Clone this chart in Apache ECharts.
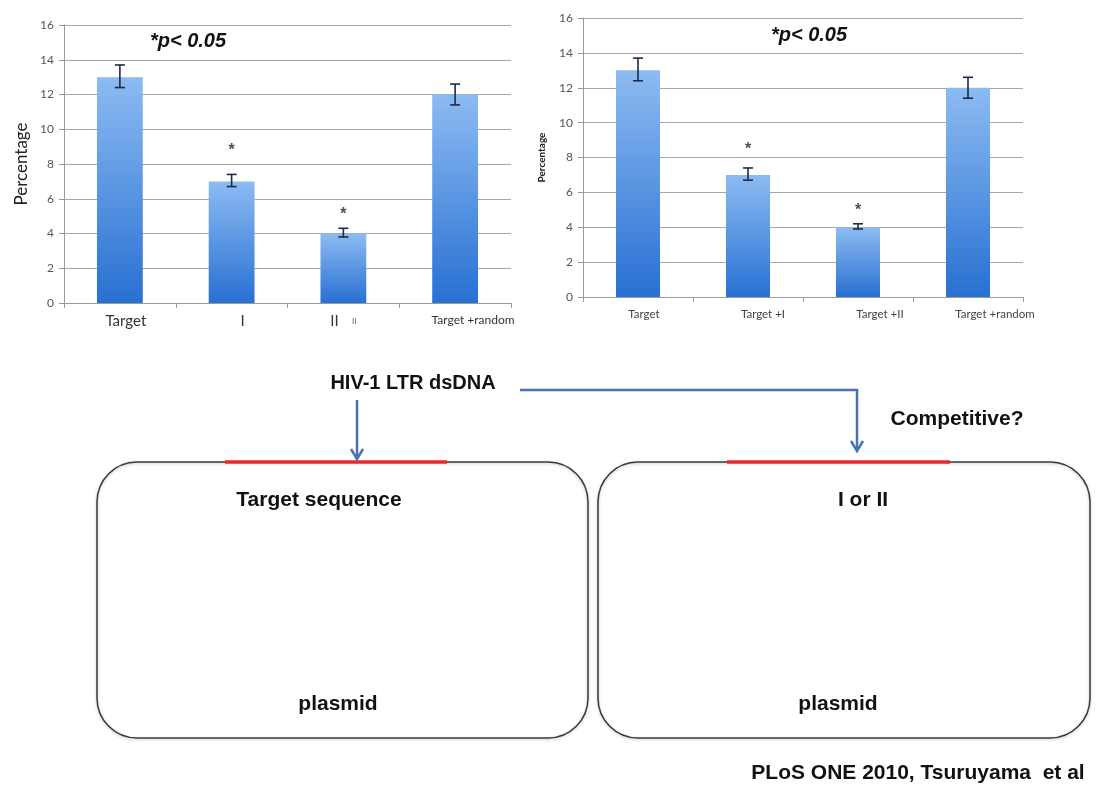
<!DOCTYPE html>
<html>
<head>
<meta charset="utf-8">
<script src="https://cdn.jsdelivr.net/npm/echarts@6/dist/echarts.min.js"></script>
<style>
html,body{margin:0;padding:0;background:#fff;}
#chart{width:1096px;height:796px;}
</style>
</head>
<body>
<div id="chart"></div>
<script>
// ---- data ----
const categoriesLeft = ['Target', 'I', 'II', 'Target +random'];
const categoriesRight = ['Target', 'Target +I', 'Target +II', 'Target +random'];
const valuesLeft = [13, 7, 4, 12];
const errLowLeft = [12.4, 6.7, 3.8, 11.4];
const errHighLeft = [13.7, 7.4, 4.3, 12.6];
const valuesRight = [13, 7, 4, 12];
const errLowRight = [12.4, 6.7, 3.9, 11.4];
const errHighRight = [13.7, 7.4, 4.2, 12.6];
const starPosLeft = [[1, 9.0], [2, 5.3]];
const starPosRight = [[1, 8.7], [2, 5.2]];
const yMin = 0, yMax = 16, yStep = 2;
const axisTitle = 'Percentage';
const sigText = '*p< 0.05';

const chart = echarts.init(document.getElementById('chart'));

const barColor = new echarts.graphic.LinearGradient(0, 0, 0, 1, [
  {offset: 0, color: '#8dbbf2'},
  {offset: 1, color: '#2870d2'}
]);

function errRender(params, api) {
  const x = api.value(0), lo = api.value(1), hi = api.value(2);
  const p1 = api.coord([x, lo]), p2 = api.coord([x, hi]);
  const w = 5;
  const st = {stroke: '#1e2a48', lineWidth: 1.6};
  return {type: 'group', children: [
    {type: 'line', shape: {x1: p1[0], y1: p1[1], x2: p2[0], y2: p2[1]}, style: st},
    {type: 'line', shape: {x1: p1[0] - w, y1: p1[1], x2: p1[0] + w, y2: p1[1]}, style: st},
    {type: 'line', shape: {x1: p2[0] - w, y1: p2[1], x2: p2[0] + w, y2: p2[1]}, style: st}
  ]};
}

const tickFont = 'Lato, "Open Sans", sans-serif';

function yAxisCfg(gi, nameSize, nameBold, nameGap) {
  return {
    type: 'value', gridIndex: gi, min: yMin, max: yMax, interval: yStep,
    name: axisTitle, nameLocation: 'middle', nameGap: nameGap,
    nameTextStyle: {fontSize: nameSize, fontWeight: nameBold ? 'bold' : 'normal', color: '#222', fontFamily: tickFont},
    axisLine: {show: true, lineStyle: {color: '#9a9a9a'}},
    axisTick: {show: true, length: 5, lineStyle: {color: '#9a9a9a'}},
    axisLabel: {fontSize: 12, color: '#555', fontFamily: tickFont, margin: 10},
    splitLine: {show: true, lineStyle: {color: '#a8a8a8', width: 1}}
  };
}

const leftRich = {
  t0: {fontSize: 15, color: '#333', fontFamily: tickFont, padding: [0, 0, 0, 12]},
  t1: {fontSize: 15, color: '#333', fontFamily: tickFont, padding: [0, 0, 0, 22]},
  t2: {fontSize: 15, color: '#333', fontFamily: tickFont},
  s2: {fontSize: 8, color: '#666', fontFamily: tickFont},
  t3: {fontSize: 12, color: '#333', fontFamily: tickFont, padding: [0, 0, 0, 36]}
};
const rightRich = {
  t0: {fontSize: 11.5, color: '#444', fontFamily: tickFont, padding: [0, 0, 0, 12]},
  t1: {fontSize: 11.5, color: '#444', fontFamily: tickFont, padding: [0, 0, 0, 30]},
  t2: {fontSize: 11.5, color: '#444', fontFamily: tickFont, padding: [0, 0, 0, 44]},
  t3: {fontSize: 11.5, color: '#444', fontFamily: tickFont, padding: [0, 0, 0, 54]}
};

function xAxisCfg(gi, cats, rich, fmt) {
  return {
    type: 'category', gridIndex: gi, data: cats,
    axisLine: {show: true, lineStyle: {color: '#9a9a9a'}},
    axisTick: {show: true, length: 5, alignWithLabel: false, lineStyle: {color: '#9a9a9a'}},
    axisLabel: {interval: 0, margin: 11, formatter: fmt, rich: rich},
    splitLine: {show: false}
  };
}

const fmtLeft = function (v, i) {
  if (i === 2) return '{t2|' + v + '}    {s2|' + v + '}';
  return '{t' + i + '|' + v + '}';
};
const fmtRight = function (v, i) { return '{t' + i + '|' + v + '}'; };

const blue = '#4a72b2';
const red = '#e62a2a';
const diagFont = '"Liberation Sans", Arial, sans-serif';

function dtext(x, y, txt, size, align) {
  return {type: 'text', x: x, y: y, style: {text: txt, fontSize: size, fontWeight: 'bold', fontFamily: diagFont, fill: '#111', align: align || 'center', verticalAlign: 'middle'}};
}

const starLabel = {show: true, position: 'inside', formatter: '*', fontSize: 16, fontWeight: 'bold', color: '#222', offset: [0, 4], fontFamily: diagFont};

const option = {
  backgroundColor: '#fff',
  animation: false,
  grid: [
    {left: 64, top: 25, right: 1096 - 511, bottom: 796 - 303},
    {left: 583, top: 18, right: 1096 - 1023, bottom: 796 - 297}
  ],
  xAxis: [xAxisCfg(0, categoriesLeft, leftRich, fmtLeft), xAxisCfg(1, categoriesRight, rightRich, fmtRight)],
  yAxis: [yAxisCfg(0, 17, false, 34), yAxisCfg(1, 10, true, 36)],
  series: [
    {type: 'bar', xAxisIndex: 0, yAxisIndex: 0, data: valuesLeft, barWidth: '41%', itemStyle: {color: barColor}},
    {type: 'bar', xAxisIndex: 1, yAxisIndex: 1, data: valuesRight, barWidth: '40%', itemStyle: {color: barColor}},
    {type: 'custom', xAxisIndex: 0, yAxisIndex: 0, renderItem: errRender, encode: {x: 0, y: [1, 2]}, z: 5,
      data: categoriesLeft.map((c, i) => [i, errLowLeft[i], errHighLeft[i]])},
    {type: 'custom', xAxisIndex: 1, yAxisIndex: 1, renderItem: errRender, encode: {x: 0, y: [1, 2]}, z: 5,
      data: categoriesRight.map((c, i) => [i, errLowRight[i], errHighRight[i]])},
    {type: 'scatter', xAxisIndex: 0, yAxisIndex: 0, data: starPosLeft, symbolSize: 2, z: 6,
      itemStyle: {color: 'rgba(0,0,0,0)'}, label: starLabel},
    {type: 'scatter', xAxisIndex: 1, yAxisIndex: 1, data: starPosRight, symbolSize: 2, z: 6,
      itemStyle: {color: 'rgba(0,0,0,0)'}, label: starLabel}
  ],
  graphic: [
    {type: 'text', x: 188, y: 41, style: {text: sigText, fontSize: 20, fontWeight: 'bold', fontStyle: 'italic', fontFamily: diagFont, fill: '#111', align: 'center', verticalAlign: 'middle'}},
    {type: 'text', x: 809, y: 35, style: {text: sigText, fontSize: 20, fontWeight: 'bold', fontStyle: 'italic', fontFamily: diagFont, fill: '#111', align: 'center', verticalAlign: 'middle'}},
    // boxes
    {type: 'rect', shape: {x: 97, y: 462, width: 491, height: 276, r: 40}, style: {fill: 'none', stroke: '#3a3a3a', lineWidth: 1.5, shadowColor: 'rgba(0,0,0,0.25)', shadowBlur: 3, shadowOffsetY: 1}},
    {type: 'rect', shape: {x: 598, y: 462, width: 492, height: 276, r: 40}, style: {fill: 'none', stroke: '#3a3a3a', lineWidth: 1.5, shadowColor: 'rgba(0,0,0,0.25)', shadowBlur: 3, shadowOffsetY: 1}},
    // red segments
    {type: 'line', shape: {x1: 225, y1: 462, x2: 447, y2: 462}, style: {stroke: red, lineWidth: 3.5}},
    {type: 'line', shape: {x1: 727, y1: 462, x2: 950, y2: 462}, style: {stroke: red, lineWidth: 3.5}},
    // blue arrows
    {type: 'line', shape: {x1: 357, y1: 400, x2: 357, y2: 459}, style: {stroke: blue, lineWidth: 2.5}},
    {type: 'polyline', shape: {points: [[351, 449], [357, 459], [363, 449]]}, style: {stroke: blue, lineWidth: 2.5, fill: 'none'}},
    {type: 'polyline', shape: {points: [[520, 390], [857, 390], [857, 450]]}, style: {stroke: blue, lineWidth: 2.5, fill: 'none'}},
    {type: 'polyline', shape: {points: [[851, 441], [857, 451], [863, 441]]}, style: {stroke: blue, lineWidth: 2.5, fill: 'none'}},
    // texts
    dtext(413, 383, 'HIV-1 LTR dsDNA', 20),
    dtext(957, 419, 'Competitive?', 21),
    dtext(319, 500, 'Target sequence', 21),
    dtext(863, 500, 'I or II', 21),
    dtext(338, 704, 'plasmid', 21),
    dtext(838, 704, 'plasmid', 21),
    dtext(918, 773, 'PLoS ONE 2010, Tsuruyama  et al', 21)
  ]
};
chart.setOption(option);
</script>
</body>
</html>
